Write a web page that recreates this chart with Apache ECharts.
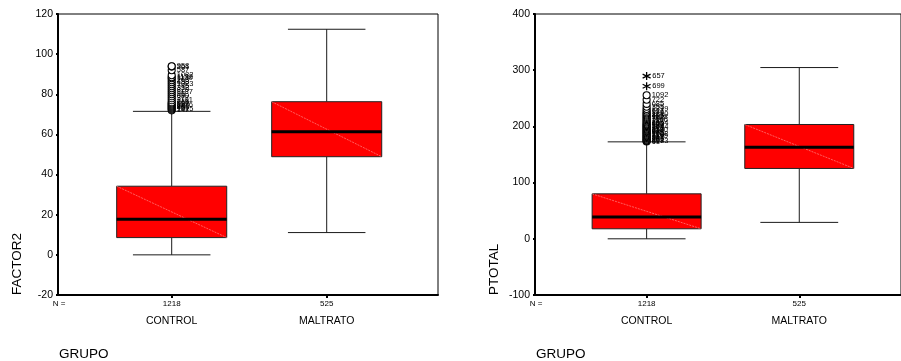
<!DOCTYPE html>
<html>
<head>
<meta charset="utf-8">
<script src="https://cdn.jsdelivr.net/npm/echarts@6/dist/echarts.min.js"></script>
<style>
  html, body { margin: 0; padding: 0; background: #fff; }
  #chart { width: 901px; height: 361px; }
</style>
</head>
<body>
<div id="chart"></div>
<script>
// ---- data ----
const GROUPS = ['CONTROL', 'MALTRATO'];
const COUNTS = [1218, 525];

// box statistics per group: [lower whisker, Q1, median, Q3, upper whisker]
const FACTOR2_STATS = [
  [0, 8.6, 17.8, 34.2, 71.5],
  [11.1, 48.9, 61.3, 76.3, 112.4]
];
// CONTROL outliers (circles), bottom to top, with their case numbers
const FACTOR2_OUT_VALUES = [72, 72.5, 73, 73.5, 74, 74.5, 75, 75.5, 76, 77, 78, 79, 80, 81, 82,
  83, 84, 85, 86, 87, 88, 88.5, 89.5, 92, 93.8, 94];
const FACTOR2_OUT_CASES = ['147', '1015', '459', '803', '68', '1176', '532', '904', '215', '1101',
  '377', '640', '96', '1187', '829', '312', '745', '1023', '458', '263', '1139', '1132', '1082',
  '587', '361', '958'];

const PTOTAL_STATS = [
  [0, 17.8, 38.6, 80, 172.5],
  [29.2, 125.2, 163, 203.4, 304.7]
];
// CONTROL extremes (asterisks)
const PTOTAL_EXT_VALUES = [271.5, 289.5];
const PTOTAL_EXT_CASES = ['699', '657'];
// CONTROL outliers (circles), bottom to top
const PTOTAL_OUT_VALUES = [173, 174, 175, 176.5, 178, 179.5, 181, 182.5, 184, 185.5, 187, 188.5,
  190, 191.5, 193, 194.5, 196, 197.5, 199, 200.5, 202, 203.5, 205, 207, 209, 211, 213, 215, 217,
  219, 221, 223, 225, 228, 231, 235, 240, 247.5, 255.5];
const PTOTAL_OUT_CASES = ['61', '1073', '418', '961', '203', '847', '552', '1195', '316', '729',
  '1008', '475', '98', '634', '1160', '259', '812', '371', '1044', '586', '127', '903', '440',
  '1054', '287', '1166', '39', '702', '1128', '495', '853', '1210', '176', '617', '1219', '355',
  '685', '722', '1092'];

const FACTOR2_AXIS = { min: -20, max: 120, interval: 20, title: 'FACTOR2' };
const PTOTAL_AXIS = { min: -100, max: 400, interval: 100, title: 'PTOTAL' };
const X_TITLE = 'GRUPO';

// ---- styles / layout ----
const FONT = "'Liberation Sans', Arial, sans-serif";
const PANELS = [
  { frameLeft: 58, frameWidth: 380, boxLeft: 94.2, boxWidth: 310, boxRatio: 0.71, capRatio: 0.5 },
  { frameLeft: 535, frameWidth: 370, boxLeft: 570.3, boxWidth: 305.3, boxRatio: 0.714, capRatio: 0.51 }
];
const TOP = 14, HEIGHT = 281;

const STAR_PATH = 'path://M0,-5L0,5M-4.33,-2.5L4.33,2.5M-4.33,2.5L4.33,-2.5';

function boxRenderer(boxRatio, capRatio) {
  return function (params, api) {
    const cat = api.value(0);
    const pt = i => api.coord([cat, api.value(i)]);
    const low = pt(1), q1 = pt(2), med = pt(3), q3 = pt(4), high = pt(5);
    const band = api.size([1, 0])[0];
    const cx = low[0];
    const hb = band * boxRatio / 2;
    const hc = band * capRatio / 2;
    const line = (x1, y1, x2, y2, style) => ({ type: 'line', shape: { x1, y1, x2, y2 }, style });
    const whisker = { stroke: '#1a1a1a', lineWidth: 1 };
    return {
      type: 'group',
      children: [
        line(cx, high[1], cx, q3[1], whisker),
        line(cx, q1[1], cx, low[1], whisker),
        line(cx - hc, high[1], cx + hc, high[1], whisker),
        line(cx - hc, low[1], cx + hc, low[1], whisker),
        { type: 'rect', shape: { x: cx - hb, y: q3[1], width: 2 * hb, height: q1[1] - q3[1] },
          style: { fill: '#ff0000', stroke: '#222', lineWidth: 1 } },
        line(cx - hb, q3[1], cx + hb, q1[1],
          { stroke: 'rgba(255,175,175,0.9)', lineWidth: 0.6, lineDash: [2, 1] }),
        line(cx - hb, med[1], cx + hb, med[1], { stroke: '#000', lineWidth: 3 })
      ]
    };
  };
}

const grids = [], xAxes = [], yAxes = [], series = [], graphics = [];

function addPanel(p, axisDef, stats, outValues, outCases, extValues, extCases) {
  const frameIdx = grids.length;
  const boxIdx = frameIdx + 1;
  grids.push({ left: p.frameLeft, top: TOP, width: p.frameWidth, height: HEIGHT,
    show: true, borderColor: '#000', borderWidth: 1, backgroundColor: 'transparent' });
  grids.push({ left: p.boxLeft, top: TOP, width: p.boxWidth, height: HEIGHT });

  // frame axes
  xAxes.push({ gridIndex: frameIdx, type: 'value', min: 0, max: 1,
    axisLine: { show: true, onZero: false, lineStyle: { color: '#000', width: 2 } },
    axisTick: { show: false }, axisLabel: { show: false }, splitLine: { show: false } });
  yAxes.push({ gridIndex: frameIdx, type: 'value', min: axisDef.min, max: axisDef.max,
    interval: axisDef.interval,
    axisLine: { show: true, onZero: false, lineStyle: { color: '#000', width: 2 } },
    axisTick: { show: true, length: 2, lineStyle: { color: '#000', width: 2 } },
    axisLabel: { color: '#000', fontFamily: FONT, fontSize: 10.5, margin: 5 },
    splitLine: { show: false } });

  // box axes
  xAxes.push({ gridIndex: boxIdx, type: 'category', data: GROUPS,
    axisLine: { show: false, onZero: false },
    axisTick: { show: true, alignWithLabel: true, length: 3, lineStyle: { color: '#000', width: 2 } },
    axisLabel: {
      interval: 0, margin: 3,
      formatter: (v, i) => '{n|' + COUNTS[i] + '}\n{c|' + v + '}',
      rich: {
        n: { fontFamily: FONT, fontSize: 8, lineHeight: 12, color: '#000' },
        c: { fontFamily: FONT, fontSize: 10.5, lineHeight: 22, color: '#000' }
      }
    },
    splitLine: { show: false } });
  yAxes.push({ gridIndex: boxIdx, type: 'value', min: axisDef.min, max: axisDef.max,
    show: false, splitLine: { show: false } });

  series.push({
    type: 'custom', xAxisIndex: boxIdx, yAxisIndex: boxIdx,
    renderItem: boxRenderer(p.boxRatio, p.capRatio),
    encode: { x: 0, y: [1, 2, 3, 4, 5] },
    data: GROUPS.map((g, i) => [g].concat(stats[i])),
    z: 2
  });

  const outLabel = (cases) => ({
    show: true, position: 'right', distance: 1,
    formatter: q => cases[q.dataIndex],
    fontFamily: FONT, fontSize: 7.5, color: '#000'
  });

  series.push({
    type: 'scatter', xAxisIndex: boxIdx, yAxisIndex: boxIdx,
    data: outValues.map(v => [GROUPS[0], v]),
    symbol: 'circle', symbolSize: 7,
    itemStyle: { color: '#fff', borderColor: '#000', borderWidth: 1.1, opacity: 1 },
    label: outLabel(outCases),
    labelLayout: { hideOverlap: false },
    z: 3
  });

  if (extValues.length) {
    series.push({
      type: 'scatter', xAxisIndex: boxIdx, yAxisIndex: boxIdx,
      data: extValues.map(v => [GROUPS[0], v]),
      symbol: STAR_PATH, symbolSize: 8,
      itemStyle: { color: 'transparent', borderColor: '#000', borderWidth: 1.3, opacity: 1 },
      label: outLabel(extCases),
      z: 4
    });
  }

  // axis titles and N marker
  graphics.push({ type: 'text', x: p.frameLeft - 40.5, y: TOP + HEIGHT, rotation: Math.PI / 2,
    style: { text: axisDef.title, fontFamily: FONT, fontSize: 13.5, fill: '#000',
      align: 'left', verticalAlign: 'middle' } });
  graphics.push({ type: 'text', x: p.frameLeft + 1, y: TOP + HEIGHT + 9,
    style: { text: 'N =', fontFamily: FONT, fontSize: 8, fill: '#000',
      align: 'center', verticalAlign: 'middle' } });
  graphics.push({ type: 'text', x: p.frameLeft + 1, y: 354,
    style: { text: X_TITLE, fontFamily: FONT, fontSize: 13.5, fill: '#000',
      align: 'left', verticalAlign: 'middle' } });
}

addPanel(PANELS[0], FACTOR2_AXIS, FACTOR2_STATS, FACTOR2_OUT_VALUES, FACTOR2_OUT_CASES, [], []);
addPanel(PANELS[1], PTOTAL_AXIS, PTOTAL_STATS, PTOTAL_OUT_VALUES, PTOTAL_OUT_CASES,
  PTOTAL_EXT_VALUES, PTOTAL_EXT_CASES);

const chart = echarts.init(document.getElementById('chart'), null, { renderer: 'canvas' });
chart.setOption({
  backgroundColor: '#fff',
  animation: false,
  grid: grids,
  xAxis: xAxes,
  yAxis: yAxes,
  series: series,
  graphic: graphics
});
</script>
</body>
</html>
